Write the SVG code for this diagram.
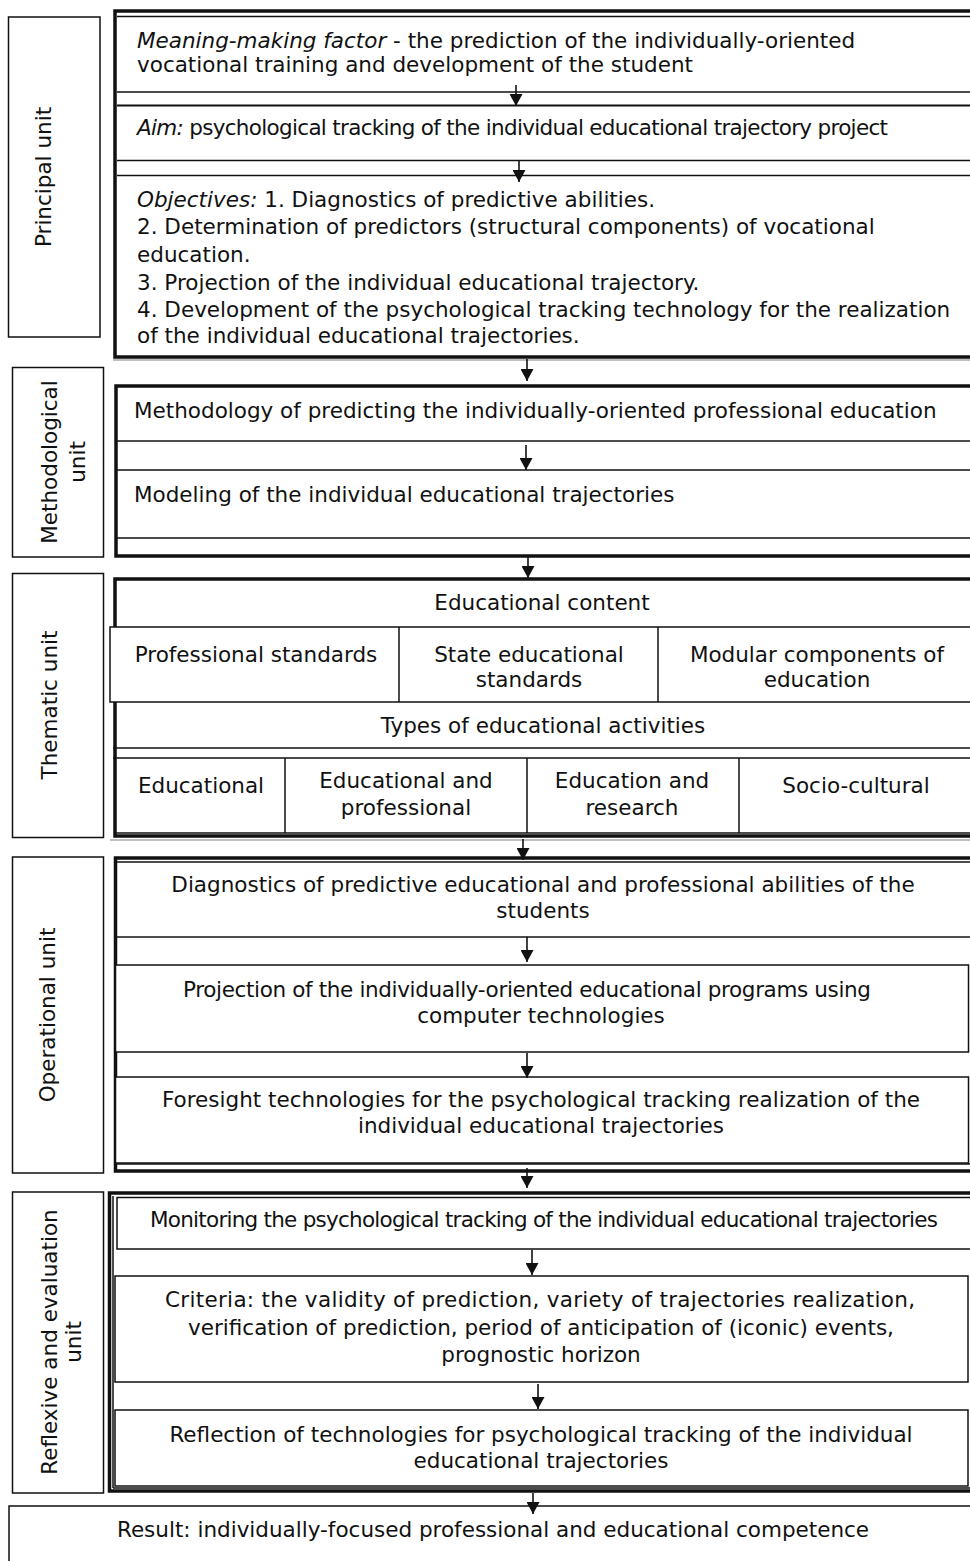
<svg xmlns="http://www.w3.org/2000/svg" width="970" height="1561" viewBox="0 0 970 1561">
<defs>
<style>
text{font-family:"DejaVu Sans","Liberation Sans",sans-serif;font-size:21.5px;fill:#111}
.c{text-anchor:middle}
.i{font-style:italic}
.b{fill:#fff;stroke:#111;stroke-width:1.5}
.t{fill:none;stroke:#111;stroke-width:3.5}
.l{stroke:#111;stroke-width:1.5;fill:none}
.g{stroke:#aaa;stroke-width:1.5}
.a{stroke:#111;stroke-width:1.6;fill:none;marker-end:url(#ah)}
</style>
<marker id="ah" markerUnits="userSpaceOnUse" markerWidth="13" markerHeight="13" refX="12" refY="6.5" orient="auto" viewBox="0 0 13 13">
<path d="M0,0 L12,6.5 L0,13 Z" fill="#111"/>
</marker>
</defs>
<rect width="970" height="1561" fill="#fff"/>

<g id="principal-label">
<rect class="b" x="8.5" y="17" width="91.5" height="320"/>
<text class="c" transform="translate(51,177) rotate(-90)">Principal unit</text>
</g>
<g id="principal">
<rect class="t" x="115" y="11" width="870" height="346"/>
<line class="l" x1="117" y1="16.5" x2="975" y2="16.5"/>
<line class="l" x1="117" y1="92" x2="975" y2="92"/>
<line class="l" x1="117" y1="105.5" x2="975" y2="105.5" style="stroke-width:2.2"/>
<line class="l" x1="117" y1="160.5" x2="975" y2="160.5"/>
<line class="l" x1="117" y1="175.5" x2="975" y2="175.5"/>
<text x="137" y="48"><tspan class="i">Meaning-making factor</tspan> - the prediction of the individually-oriented</text>
<text x="137" y="72">vocational training and development of the student</text>
<text x="137" y="135" textLength="751" lengthAdjust="spacing"><tspan class="i">Aim:</tspan> psychological tracking of the individual educational trajectory project</text>
<text x="137" y="207"><tspan class="i">Objectives:</tspan> 1. Diagnostics of predictive abilities.</text>
<text x="137" y="234">2. Determination of predictors (structural components) of vocational</text>
<text x="137" y="262">education.</text>
<text x="137" y="290">3. Projection of the individual educational trajectory.</text>
<text x="137" y="317">4. Development of the psychological tracking technology for the realization</text>
<text x="137" y="343">of the individual educational trajectories.</text>
</g>
<line class="g" x1="113" y1="360" x2="970" y2="360"/>

<g id="methodological-label">
<rect class="b" x="12.5" y="367.5" width="91" height="189.5"/>
<text class="c" transform="translate(57,462) rotate(-90)">Methodological</text>
<text class="c" transform="translate(85,462) rotate(-90)">unit</text>
</g>
<g id="methodological">
<rect class="t" x="116" y="386" width="870" height="170"/>
<line class="l" x1="116" y1="441" x2="975" y2="441"/>
<line class="l" x1="116" y1="470" x2="975" y2="470"/>
<line class="l" x1="116" y1="538" x2="975" y2="538"/>
<text x="134" y="418">Methodology of predicting the individually-oriented professional education</text>
<text x="134" y="502">Modeling of the individual educational trajectories</text>
</g>

<g id="thematic-label">
<rect class="b" x="12.5" y="573.5" width="91" height="264"/>
<text class="c" transform="translate(57,705) rotate(-90)">Thematic unit</text>
</g>
<g id="thematic">
<rect class="t" x="115" y="579" width="870" height="257"/>
<rect class="b" x="110" y="627" width="870" height="75"/>
<line class="l" x1="399" y1="627" x2="399" y2="702"/>
<line class="l" x1="658" y1="627" x2="658" y2="702"/>
<line class="l" x1="113" y1="748" x2="975" y2="748"/>
<line class="l" x1="113" y1="758" x2="975" y2="758"/>
<line class="l" x1="115" y1="833" x2="975" y2="833"/>
<line class="l" x1="285" y1="758" x2="285" y2="833"/>
<line class="l" x1="527" y1="758" x2="527" y2="833"/>
<line class="l" x1="739" y1="758" x2="739" y2="833"/>
<text class="c" x="542" y="610">Educational content</text>
<text class="c" x="256" y="662">Professional standards</text>
<text class="c" x="529" y="662">State educational</text>
<text class="c" x="529" y="687">standards</text>
<text class="c" x="817" y="662">Modular components of</text>
<text class="c" x="817" y="687">education</text>
<text class="c" x="543" y="733">Types of educational activities</text>
<text class="c" x="201" y="793">Educational</text>
<text class="c" x="406" y="788">Educational and</text>
<text class="c" x="406" y="815">professional</text>
<text class="c" x="632" y="788">Education and</text>
<text class="c" x="632" y="815">research</text>
<text class="c" x="856" y="793">Socio-cultural</text>
</g>
<line class="g" x1="110" y1="840" x2="970" y2="840"/>

<g id="operational-label">
<rect class="b" x="12.5" y="857" width="91" height="316"/>
<text class="c" transform="translate(55,1015) rotate(-90)">Operational unit</text>
</g>
<g id="operational">
<rect class="t" x="115.5" y="858" width="870" height="313"/>
<line class="l" x1="117" y1="862" x2="975" y2="862"/>
<line class="l" x1="117" y1="937" x2="975" y2="937"/>
<rect class="b" x="115.5" y="965" width="853" height="87"/>
<rect class="b" x="115.5" y="1077" width="853" height="86"/>
<line class="l" x1="115" y1="1164" x2="975" y2="1164"/>
<text class="c" x="543" y="892">Diagnostics of predictive educational and professional abilities of the</text>
<text class="c" x="543" y="918">students</text>
<text class="c" x="527" y="997" textLength="688" lengthAdjust="spacing">Projection of the individually-oriented educational programs using</text>
<text class="c" x="541" y="1023">computer technologies</text>
<text class="c" x="541" y="1107">Foresight technologies for the psychological tracking realization of the</text>
<text class="c" x="541" y="1133">individual educational trajectories</text>
</g>

<g id="reflexive-label">
<rect class="b" x="12.5" y="1192" width="91" height="301"/>
<text class="c" transform="translate(57,1342) rotate(-90)">Reflexive and evaluation</text>
<text class="c" transform="translate(81,1342) rotate(-90)">unit</text>
</g>
<g id="reflexive">
<rect class="t" x="109.5" y="1193" width="880" height="298"/>
<line class="l" x1="113" y1="1196" x2="113" y2="1488"/>
<line class="l" x1="113" y1="1488" x2="975" y2="1488"/>
<rect class="b" x="117" y="1197.5" width="870" height="51.5"/>
<rect class="b" x="115" y="1276" width="853" height="106"/>
<rect class="b" x="115" y="1410" width="853" height="76"/>
<text class="c" x="544" y="1227" textLength="788" lengthAdjust="spacing">Monitoring the psychological tracking of the individual educational trajectories</text>
<text class="c" x="540" y="1307" textLength="750" lengthAdjust="spacing">Criteria: the validity of prediction, variety of trajectories realization,</text>
<text class="c" x="541" y="1335">verification of prediction, period of anticipation of (iconic) events,</text>
<text class="c" x="541" y="1362">prognostic horizon</text>
<text class="c" x="541" y="1442">Reflection of technologies for psychological tracking of the individual</text>
<text class="c" x="541" y="1468">educational trajectories</text>
</g>

<g id="result">
<rect class="b" x="9" y="1506" width="975" height="70"/>
<text class="c" x="493" y="1537">Result: individually-focused professional and educational competence</text>
</g>

<g id="connectors">
<line class="a" x1="516" y1="85" x2="516" y2="106"/>
<line class="a" x1="519" y1="160" x2="519" y2="182"/>
<line class="a" x1="527" y1="359" x2="527" y2="381"/>
<line class="a" x1="526" y1="445" x2="526" y2="470"/>
<line class="a" x1="528" y1="557" x2="528" y2="578"/>
<line class="a" x1="523" y1="839" x2="523" y2="860"/>
<line class="a" x1="527" y1="937" x2="527" y2="962"/>
<line class="a" x1="527" y1="1053" x2="527" y2="1078"/>
<line class="a" x1="527" y1="1168" x2="527" y2="1188"/>
<line class="a" x1="532" y1="1250" x2="532" y2="1275"/>
<line class="a" x1="538" y1="1384" x2="538" y2="1409"/>
<line class="a" x1="533" y1="1493" x2="533" y2="1514"/>
</g>
</svg>
